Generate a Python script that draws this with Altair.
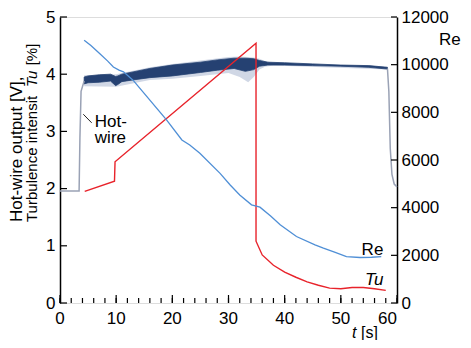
import altair as alt
import pandas as pd

FONT = "Liberation Sans"
NAVY = "#1c3a6c"
RED = "#e8232b"
BLUE = "#4f8fd6"

# ---------------- data ----------------
x_ticks = [0, 10, 20, 30, 40, 50, 60]
x_minor = list(range(0, 61, 2))
yl_ticks = [0, 1, 2, 3, 4, 5]
yr_ticks = [0, 2000, 4000, 6000, 8000, 10000, 12000]

# hot-wire output [V]: dense band while the flow runs
hw_t = [4.3, 5, 7, 9, 9.9, 10.3, 11, 13, 16, 20, 25, 28, 31, 33, 34.5, 35.5, 37, 40, 45, 50, 55, 58.3]
hw_lo = [3.83, 3.85, 3.86, 3.88, 3.80, 3.82, 3.87, 3.90, 3.94, 3.97, 4.03, 4.07, 4.10, 4.05, 4.08, 4.14, 4.16, 4.16, 4.15, 4.14, 4.12, 4.09]
hw_hi = [3.95, 3.97, 3.99, 4.00, 3.96, 3.97, 4.00, 4.04, 4.10, 4.16, 4.21, 4.25, 4.28, 4.28, 4.27, 4.24, 4.21, 4.20, 4.18, 4.16, 4.15, 4.12]
# faint outer envelope of the fluctuations
env_t = [4.3, 10, 16, 20, 25, 30, 32, 33.5, 34.5, 35.5, 36.5, 38, 58.3]
env_lo = [3.79, 3.78, 3.90, 3.92, 3.97, 4.02, 3.95, 3.86, 3.95, 4.08, 4.13, 4.15, 4.08]
env_hi = [3.98, 4.00, 4.12, 4.18, 4.24, 4.30, 4.31, 4.30, 4.29, 4.27, 4.23, 4.20, 4.13]
# hot-wire output before start / after stop
idle1_t = [0, 3.4, 3.55, 3.75, 4.3]
idle1_v = [1.96, 1.96, 2.9, 3.7, 3.88]
idle2_t = [58.3, 58.55, 58.8, 59.1, 59.5, 60]
idle2_v = [4.10, 3.7, 2.7, 2.25, 2.08, 2.03]

# turbulence intensity Tu [%]
tu_t = [4.4, 9.7, 9.8, 34.9, 34.9, 36, 38, 40, 42, 44, 46, 48, 50, 52, 54, 56, 58]
tu_v = [1.95, 2.13, 2.47, 4.54, 1.08, 0.84, 0.66, 0.54, 0.45, 0.37, 0.31, 0.26, 0.25, 0.27, 0.27, 0.25, 0.22]

# Reynolds number
re_t = [4.3, 5.5, 7.1, 8.5, 9.5, 10.5, 11.3, 13, 16, 19, 21.7, 23.1, 24.9, 28.5, 30.3, 32, 34.1, 35.6, 37.5,
        39.2, 42.1, 45.4, 46.9, 49, 51, 53.4, 55.5, 57.2]
re_v = [11020, 10800, 10460, 10150, 9900, 9770, 9700, 9350, 8510, 7670, 6840, 6630, 6280, 5440, 4950, 4530,
        4120, 4020, 3650, 3280, 2790, 2440, 2300, 2120, 1950, 1910, 1920, 1950]

W, H = 337, 286

hw_df = pd.DataFrame({"t": hw_t, "lo": hw_lo, "hi": hw_hi})
env_df = pd.DataFrame({"t": env_t, "lo": env_lo, "hi": env_hi})
idle_df = pd.DataFrame({
    "t": idle1_t + idle2_t,
    "v": idle1_v + idle2_v,
    "seg": ["a"] * len(idle1_t) + ["b"] * len(idle2_t),
})
tu_df = pd.DataFrame({"t": tu_t, "v": tu_v, "i": list(range(len(tu_t)))})
re_df = pd.DataFrame({"t": re_t, "re": re_v})

xs = alt.Scale(domain=[0, 60], nice=False, zero=False)
yl = alt.Scale(domain=[0, 5], nice=False)
yr = alt.Scale(domain=[0, 12000], nice=False)

common_axis = dict(ticks=False, grid=False, labelFontSize=17, labelFont=FONT, labelColor="black",
                   domainColor="black", domainWidth=1.5, title=None)
x_axis = alt.Axis(values=x_ticks, labels=False, **common_axis)
yl_axis = alt.Axis(values=yl_ticks, labelPadding=5, **common_axis)
yr_axis = alt.Axis(values=yr_ticks, orient="right", labelPadding=4, format="d", **common_axis)

one = pd.DataFrame({"k": [0]})


def X(f="t:Q", axis=None):
    return alt.X(f, scale=xs, axis=axis)


def YL(f, axis=None):
    return alt.Y(f, scale=yl, axis=axis)


env = alt.Chart(env_df).mark_area(color="#8a9cbf", opacity=0.4).encode(
    x=X(axis=x_axis), y=YL("lo:Q", yl_axis), y2="hi:Q")
band = alt.Chart(hw_df).mark_area(color=NAVY, opacity=0.95, stroke=NAVY, strokeWidth=0.8).encode(
    x=X(), y=YL("lo:Q"), y2="hi:Q")
idle = alt.Chart(idle_df).mark_line(color="#9aa2b5", strokeWidth=1.5).encode(
    x=X(), y=YL("v:Q"), detail="seg:N")
tu = alt.Chart(tu_df).mark_line(color=RED, strokeWidth=1.4).encode(
    x=X(), y=YL("v:Q"), order="i:Q")

# annotations in data coordinates
ann_df = pd.DataFrame({
    "t": [6.2, 6.2, 53.7],
    "v": [3.075, 2.80, 0.84],
    "txt": ["Hot-", "wire", "Re"],
})
ann = alt.Chart(ann_df).mark_text(align="left", baseline="alphabetic", fontSize=17, font=FONT,
                                  color="black").encode(x=X(), y=YL("v:Q"), text="txt:N")
tu_lab = alt.Chart(pd.DataFrame({"t": [54.3], "v": [0.32]})).mark_text(
    text="Tu", align="left", baseline="alphabetic", fontSize=17, font=FONT, fontStyle="italic",
    color="black").encode(x=X(), y=YL("v:Q"))
lead = alt.Chart(pd.DataFrame({"t": [4.15], "v": [3.30], "t2": [5.64], "v2": [3.15]})).mark_rule(
    color="#222", strokeWidth=1).encode(x=X(), x2="t2:Q", y=YL("v:Q"), y2="v2:Q")

# x tick labels (last one flush right as in the reference)
xl_df = pd.DataFrame({"t": x_ticks})
xlab_c = alt.Chart(xl_df).transform_filter("datum.t < 60").mark_text(
    align="center", baseline="top", fontSize=17, font=FONT, color="black").encode(
    x=X(), y=alt.value(H + 8), text="t:Q")
xlab_r = alt.Chart(xl_df).transform_filter("datum.t == 60").mark_text(
    align="right", baseline="top", fontSize=17, font=FONT, color="black").encode(
    x=X(), y=alt.value(H + 8), text="t:Q")

# inward ticks
lt = alt.Chart(pd.DataFrame({"v": yl_ticks})).mark_rule(color="black", strokeWidth=1.2).encode(
    y=YL("v:Q"), x=alt.value(0), x2=alt.value(7))
bt_minor = alt.Chart(pd.DataFrame({"t": x_minor})).mark_rule(color="black", strokeWidth=1.2).encode(
    x=X(), y=alt.value(H), y2=alt.value(H - 5))
bt_major = alt.Chart(pd.DataFrame({"t": x_ticks})).mark_rule(color="black", strokeWidth=1.2).encode(
    x=X(), y=alt.value(H), y2=alt.value(H - 8))


def txt(s, x, y, angle=0, align="left", baseline="middle", size=17, style="normal"):
    return alt.Chart(one).mark_text(text=s, angle=angle, align=align, baseline=baseline,
                                    fontSize=size, font=FONT, fontStyle=style, color="black").encode(
        x=alt.value(x), y=alt.value(y))


ytitle1 = txt("Hot-wire output [V],", -43, 205, angle=270, size=17)
ytitle2a = txt("Turbulence intensit", -28, 205, angle=270, size=15)
ytitle2b = txt("Tu", -28, 205 - 135, angle=270, size=15, style="italic")
ytitle2c = txt("[%]", -28, 205 - 135 - 17.5 - 4.2, angle=270, size=15)
xtitle1 = txt("t", 292, 321, baseline="alphabetic", size=16, style="italic")
xtitle2 = txt("[s]", 301, 321, baseline="alphabetic", size=16)
rtitle = txt("Re", 379, 23, size=17)

re_line = alt.Chart(re_df).mark_line(color=BLUE, strokeWidth=1.3).encode(
    x=X(), y=alt.Y("re:Q", scale=yr, axis=yr_axis))
rt = alt.Chart(pd.DataFrame({"r": yr_ticks})).mark_rule(color="black", strokeWidth=1.2).encode(
    y=alt.Y("r:Q", scale=yr, axis=None), x=alt.value(W), x2=alt.value(W - 6))

chart = alt.layer(
    env, band, idle, tu, re_line, lead, ann, tu_lab, lt, bt_minor, bt_major, rt, xlab_c, xlab_r,
    ytitle1, ytitle2a, ytitle2b, ytitle2c, xtitle1, xtitle2, rtitle,
).resolve_scale(y="independent").properties(
    width=W, height=H,
    autosize=alt.AutoSizeParams(type="none"),
    padding={"left": 52, "top": 9, "right": 66, "bottom": 37},
).configure_view(stroke="#777777", strokeWidth=2).configure(background="white")

chart.save("out.html", embed_options={"renderer": "svg", "actions": False})
